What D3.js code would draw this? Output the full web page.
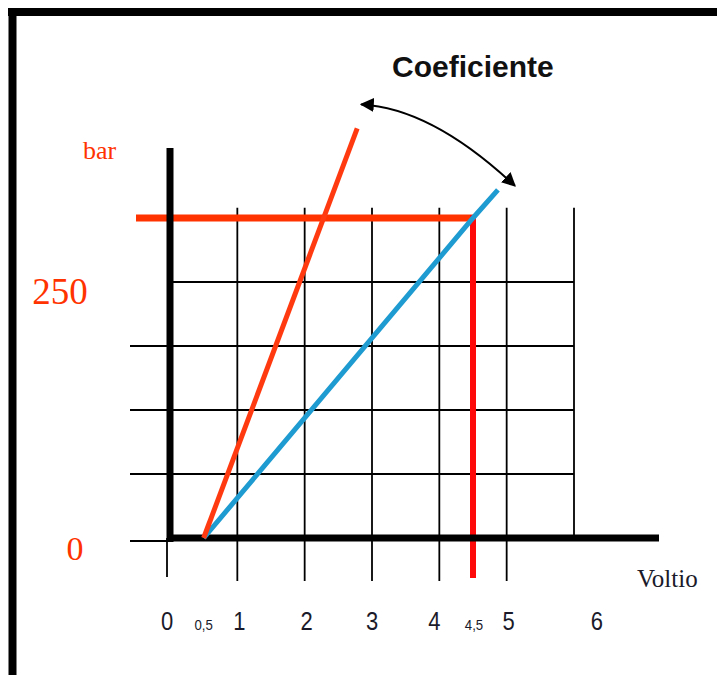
<!DOCTYPE html>
<html>
<head>
<meta charset="utf-8">
<script src="https://cdn.jsdelivr.net/npm/d3@7"></script>
<style>
  html, body { margin: 0; padding: 0; background: #fff; }
  svg { display: block; }
</style>
</head>
<body>
<svg id="chart" width="717" height="675"></svg>
<script>
// Pressure sensor characteristic: bar versus volts
const xTicks = [0, 0.5, 1, 2, 3, 4, 4.5, 5, 6];
const xTickLabels = ["0", "0,5", "1", "2", "3", "4", "4,5", "5", "6"];
const xGrid = [1, 2, 3, 4, 5, 6];
const yGrid = [50, 100, 150, 200];
const yStubs = [0, 50, 100, 150];
const yLabels = [0, 250];

// steep (orange) and shallow (blue) characteristic lines
const steepVolts = [0.5, 2.78];
const steepBar = [0, 320];
const shallowVolts = [0.5, 4.5, 4.87];
const shallowBar = [0, 250, 272];

// reading marked by the red cross-hair
const readVolt = 4.5;
const readBar = 250;

const svg = d3.select("#chart");

const x = d3.scaleLinear().domain([0, 6]).range([170, 574]);
const y = d3.scaleLinear().domain([0, 250]).range([538, 218]);

// frame
svg.append("line").attr("x1", 8).attr("x2", 717).attr("y1", 12).attr("y2", 12)
  .attr("stroke", "#000").attr("stroke-width", 8);
svg.append("line").attr("x1", 12.5).attr("x2", 12.5).attr("y1", 8).attr("y2", 675)
  .attr("stroke", "#000").attr("stroke-width", 8);

const grid = svg.append("g").attr("stroke", "#000").attr("stroke-width", 1.8);
const gridTop = y(258);

// horizontal grid lines
grid.selectAll("line.h").data(yGrid).join("line")
  .attr("class", "h")
  .attr("x1", x(0)).attr("x2", x(6))
  .attr("y1", d => y(d)).attr("y2", d => y(d));

// left stubs
grid.selectAll("line.s").data(yStubs).join("line")
  .attr("class", "s")
  .attr("x1", 130).attr("x2", x(0))
  .attr("y1", d => y(d) + (d === 0 ? 3 : 0)).attr("y2", d => y(d) + (d === 0 ? 3 : 0));

// vertical grid lines, those below 6 run down as ticks
grid.selectAll("line.v").data(xGrid).join("line")
  .attr("class", "v")
  .attr("x1", d => x(d)).attr("x2", d => x(d))
  .attr("y1", gridTop)
  .attr("y2", d => d === 6 ? y(0) : 581);

// tick under the origin
grid.append("line")
  .attr("x1", x(0) - 3).attr("x2", x(0) - 3)
  .attr("y1", y(0)).attr("y2", 577);

// red cross-hair
svg.append("line")
  .attr("x1", 136).attr("x2", x(readVolt) + 3)
  .attr("y1", y(readBar)).attr("y2", y(readBar))
  .attr("stroke", "#ff3300").attr("stroke-width", 7);
svg.append("line")
  .attr("x1", x(readVolt)).attr("x2", x(readVolt))
  .attr("y1", y(readBar) - 3).attr("y2", 578)
  .attr("stroke", "#ff0a0a").attr("stroke-width", 6);

// axes
svg.append("line")
  .attr("x1", x(0)).attr("x2", x(0))
  .attr("y1", 148).attr("y2", y(0) + 4)
  .attr("stroke", "#000").attr("stroke-width", 7);
svg.append("line")
  .attr("x1", x(0) - 3).attr("x2", 659)
  .attr("y1", y(0)).attr("y2", y(0))
  .attr("stroke", "#000").attr("stroke-width", 7);

// characteristic lines
const line = d3.line().x(d => x(d[0])).y(d => y(d[1]));
svg.append("path")
  .attr("d", line(d3.zip(shallowVolts, shallowBar)))
  .attr("fill", "none").attr("stroke", "#1e9bd0").attr("stroke-width", 5);
svg.append("path")
  .attr("d", line(d3.zip(steepVolts, steepBar)))
  .attr("fill", "none").attr("stroke", "#ff3a10").attr("stroke-width", 5);

// curved double arrow between the two line ends
const defs = svg.append("defs");
defs.append("marker")
  .attr("id", "head")
  .attr("viewBox", "0 0 10 10")
  .attr("refX", 9).attr("refY", 5)
  .attr("markerWidth", 7).attr("markerHeight", 7)
  .attr("markerUnits", "strokeWidth")
  .attr("orient", "auto-start-reverse")
  .append("path").attr("d", "M0,0 L10,5 L0,10 Z").attr("fill", "#000");

const aStart = [x(steepVolts[1]) + 4, y(steepBar[1]) - 24];
const aEnd = [x(shallowVolts[2]) + 17, y(shallowBar[2]) - 4];
const path = d3.path();
path.moveTo(aStart[0], aStart[1]);
path.quadraticCurveTo(432, 108, aEnd[0], aEnd[1]);
svg.append("path")
  .attr("d", path.toString())
  .attr("fill", "none").attr("stroke", "#000").attr("stroke-width", 2)
  .attr("marker-start", "url(#head)")
  .attr("marker-end", "url(#head)");

// title
svg.append("text")
  .attr("x", 392).attr("y", 77)
  .attr("font-family", "Liberation Sans, Arial, sans-serif")
  .attr("font-weight", "bold").attr("font-size", 30)
  .attr("fill", "#111")
  .text("Coeficiente");

// x tick labels
const labelNudge = { "0": -3, "1": 2, "2": 2, "4": -5, "4,5": 1, "5": 2, "6": 23 };
svg.append("g")
  .selectAll("text").data(xTicks).join("text")
  .attr("x", (d, i) => x(d) + (labelNudge[xTickLabels[i]] || 0))
  .attr("y", 630)
  .attr("text-anchor", "middle")
  .attr("font-family", "Liberation Sans, Arial, sans-serif")
  .attr("font-size", (d, i) => xTickLabels[i].includes(",") ? 15 : 25)
  .attr("fill", "#1a1a2a")
  .attr("transform", (d, i) => {
    const cx = x(d) + (labelNudge[xTickLabels[i]] || 0);
    return `translate(${cx},0) scale(0.88,1) translate(${-cx},0)`;
  })
  .text((d, i) => xTickLabels[i]);

// axis titles
svg.append("text")
  .attr("x", 637).attr("y", 587)
  .attr("font-family", "Liberation Serif, Times New Roman, serif")
  .attr("font-size", 25).attr("fill", "#1a1a2a")
  .text("Voltio");

svg.append("text")
  .attr("x", 83).attr("y", 159)
  .attr("font-family", "Liberation Serif, Times New Roman, serif")
  .attr("font-size", 26).attr("fill", "#ff3300")
  .text("bar");

// y labels
const yLabelPos = { 0: { x: 75, y: 560, size: 34 }, 250: { x: 60, y: 304, size: 37 } };
svg.append("g")
  .selectAll("text").data(yLabels).join("text")
  .attr("x", d => yLabelPos[d].x)
  .attr("y", d => yLabelPos[d].y)
  .attr("text-anchor", "middle")
  .attr("font-family", "Liberation Serif, Times New Roman, serif")
  .attr("font-size", d => yLabelPos[d].size)
  .attr("fill", "#ff3300")
  .text(d => String(d));
</script>
</body>
</html>
